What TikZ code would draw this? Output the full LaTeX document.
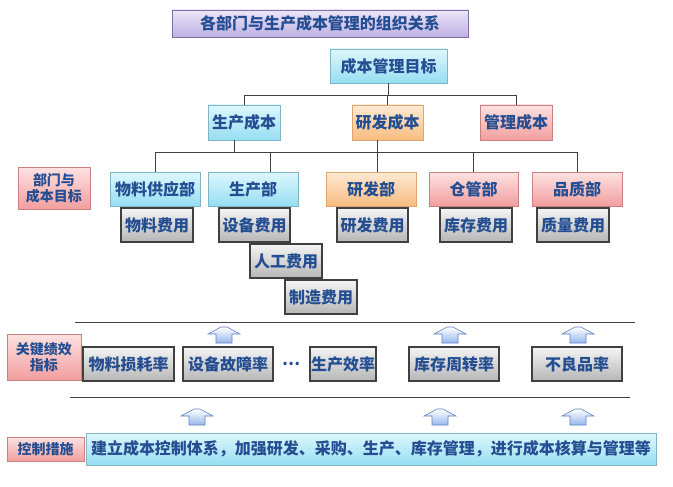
\documentclass[tikz,border=0pt]{standalone}
\usepackage{fontspec}
\setmainfont{Noto Sans CJK SC}
\usepackage{tikz}
\usetikzlibrary{positioning,shadows}
\definecolor{textblue}{RGB}{36,78,145}
\definecolor{linegray}{RGB}{64,64,64}
\definecolor{cyantop}{RGB}{222,247,253}
\definecolor{cyanbot}{RGB}{150,222,242}
\definecolor{cyanline}{RGB}{130,180,200}
\definecolor{orangetop}{RGB}{254,234,212}
\definecolor{orangebot}{RGB}{248,188,128}
\definecolor{orangeline}{RGB}{222,166,112}
\definecolor{pinktop}{RGB}{253,226,226}
\definecolor{pinkbot}{RGB}{242,158,158}
\definecolor{pinkline}{RGB}{205,128,128}
\definecolor{graytop}{RGB}{245,245,245}
\definecolor{graybot}{RGB}{182,182,182}
\definecolor{lavtop}{RGB}{236,230,248}
\definecolor{lavbot}{RGB}{190,176,226}
\definecolor{lavline}{RGB}{128,112,160}
\definecolor{arrowblue}{RGB}{150,184,236}
\definecolor{arrowline}{RGB}{95,130,195}

\begin{document}
\begin{tikzpicture}[x=1pt, y=-1pt, font=\bfseries\fontsize{16}{18}\selectfont, text=textblue,
    box/.style={rectangle, draw, inner sep=1pt, minimum height=34pt, line width=0.8pt,
      drop shadow={shadow xshift=1.2pt, shadow yshift=-1.2pt, opacity=0.35}},
    cyanbox/.style={box, draw=cyanline, top color=cyantop, bottom color=cyanbot},
    orangebox/.style={box, draw=orangeline, top color=orangetop, bottom color=orangebot},
    pinkbox/.style={box, draw=pinkline, top color=pinktop, bottom color=pinkbot},
    feebox/.style={box, draw=linegray, line width=1.1pt, top color=graytop, bottom color=graybot},
    sidelabel/.style={pinkbox, align=center, font=\bfseries\fontsize{14}{16}\selectfont},
    treeline/.style={draw=linegray, line width=1pt},
    uparrow/.style={draw=arrowline, line width=0.6pt, top color=white, bottom color=arrowblue}]
  \useasboundingbox (0,0) rectangle (673,487);

  % title and goal
  \node[box, draw=lavline, top color=lavtop, bottom color=lavbot, minimum width=296pt, minimum height=27pt] (title) at (320,23.5) {各部门与生产成本管理的组织关系};
  \node[cyanbox, minimum width=117pt] (goal) at (388.5,66) {成本管理目标};

  % cost types
  \node[cyanbox, minimum width=72pt, minimum height=35pt] (prodcost) at (244,122.5) {生产成本};
  \node[orangebox, minimum width=71pt, minimum height=35pt] (rdcost) at (387.5,122.5) {研发成本};
  \node[pinkbox, minimum width=72pt, minimum height=35pt] (mgmtcost) at (516,122.5) {管理成本};

  % departments
  \node[sidelabel, minimum width=72pt, minimum height=42pt] (deptlabel) at (54,188) {部门与\\成本目标};
  \node[cyanbox, minimum width=90pt] (matdept) at (155,189) {物料供应部};
  \node[cyanbox, minimum width=90pt] (proddept) at (253,189) {生产部};
  \node[orangebox, minimum width=90pt] (rddept) at (371,189) {研发部};
  \node[pinkbox, minimum width=89pt] (whdept) at (473.5,189) {仓管部};
  \node[pinkbox, minimum width=90pt] (qadept) at (577,189) {品质部};

  % fees
  \node[feebox, minimum width=72pt] (matfee) at (157,225) {物料费用};
  \node[feebox, minimum width=71pt] (devfee) at (254.5,225) {设备费用};
  \node[feebox, minimum width=71pt] (rdfee) at (372.5,225) {研发费用};
  \node[feebox, minimum width=72pt] (whfee) at (476,225) {库存费用};
  \node[feebox, minimum width=72pt] (qafee) at (573,225) {质量费用};
  \node[feebox, minimum width=72pt] (laborfee) at (286,261) {人工费用};
  \node[feebox, minimum width=72pt] (mfgfee) at (321,297) {制造费用};

  \draw[treeline] (goal.south) -- ++(0,12) coordinate (j1);
  \draw[treeline] (prodcost.north) |- (j1) -| (mgmtcost.north);
  \draw[treeline] (rdcost.north) -- (rdcost.north |- j1);
  \draw[treeline] ([xshift=-10pt]prodcost.south) -- ++(0,12) coordinate (j2);
  \draw[treeline] (matdept.north) |- (j2) -| (qadept.north);
  \draw[treeline] ([xshift=17pt]proddept.north) -- ([xshift=17pt]proddept.north |- j2);
  \draw[treeline] ([xshift=-10pt]rdcost.south) -- ([xshift=-10pt]rdcost.south |- rddept.north);
  \draw[treeline] (whdept.north) -- (whdept.north |- j2);

  % key indicators
  \draw[treeline] (75,322) -- (635,322);
  \node[sidelabel, minimum width=74pt, minimum height=46pt] (kpilabel) at (44,357) {关键绩效\\指标};
  \node[feebox, minimum width=91pt] (loss) at (128.5,364) {物料损耗率};
  \node[feebox, minimum width=90pt] (fault) at (228,364) {设备故障率};
  \node (dots) at (291,364) {…};
  \node[feebox, minimum width=66pt] (eff) at (343,364) {生产效率};
  \node[feebox, minimum width=90pt] (turnover) at (454,364) {库存周转率};
  \node[feebox, minimum width=90pt] (defect) at (577,364) {不良品率};

  % control measures
  \draw[treeline] (70,397) -- (630,397);
  \node[sidelabel, minimum width=77pt, minimum height=24pt] (ctrllabel) at (45.5,449) {控制措施};
  \node[cyanbox, minimum width=570pt, minimum height=32pt] (measure) at (371,449) {建立成本控制体系，加强研发、采购、生产、库存管理，进行成本核算与管理等};

  \foreach \ax/\ay in {224/327, 450/327, 578/327, 197/409, 440/409, 578/409}
    \draw[uparrow, shift={(\ax,\ay)}] (-8,16) -- (-8,7) -- (-16,7) -- (-3,0) -- (3,0) -- (16,7) -- (8,7) -- (8,16) -- cycle;
\end{tikzpicture}
\end{document}
